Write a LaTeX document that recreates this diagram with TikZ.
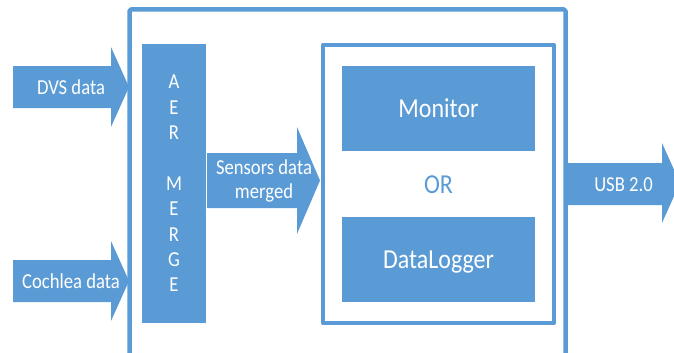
\documentclass[tikz,border=0pt]{standalone}
\usepackage{fontspec}
\setmainfont{Carlito}[FakeStretch=0.875]
\definecolor{aerblue}{RGB}{91,155,213}
\tikzset{
    blockfill/.style={fill=aerblue, draw=none},
    frame/.style={draw=aerblue, line join=round},
    smalltext/.style={text=white, inner sep=0pt, align=center, font=\fontsize{21.3}{24}\selectfont},
    bigtext/.style={text=white, inner sep=0pt, text depth=0pt, font=\fontsize{27.4}{29}\selectfont},
}

\begin{document}
\begin{tikzpicture}[x=1pt, y=-1pt]
        \useasboundingbox (0,0) rectangle (674,353);
        \clip (0,0) rectangle (674,353);
        % Board outline
        \draw[frame, line width=4.5pt, rounded corners=1.5pt] (129.5,370) -- (129.5,9.5) -- (565.5,9.5) -- (565.5,370);
        % Sensor inputs
        \foreach \y/\name/\txt in {87/dvs/DVS data, 281/cochlea/Cochlea data} {
            \fill[aerblue] (13,\y-21) -- (111,\y-21) -- (111,\y-40) -- (129,\y) -- (111,\y+40) -- (111,\y+21) -- (13,\y+21) -- cycle;
            \node[smalltext] (\name) at (71,\y) {\txt};
        }
        % AER merger
        \node[blockfill, minimum width=64pt, minimum height=279pt] (aer) at (174,183.5) {};
        \node[smalltext, font=\fontsize{21.3}{25.4}\selectfont, text depth=0pt] (aerlabel) at (aer.center) {A\\E\\R\\\mbox{}\\M\\E\\R\\G\\E};
        % Merged stream
        \fill[aerblue] (207,153) -- (297,153) -- (297,127) -- (320,180.5) -- (297,234) -- (297,208) -- (207,208) -- cycle;
        \node[smalltext] (merged) at (264,181) {Sensors data\\merged};
        % Output choice
        \node[frame, line width=4pt, minimum width=231pt, minimum height=278pt] (choice) at (438.5,184) {};
        \node[blockfill, minimum width=193pt, minimum height=85pt] (monitor) at (438.5,108.5) {};
        \node[bigtext] (monitorlabel) at (monitor.center) {Monitor};
        \node[bigtext, text=aerblue] (or) at (438.5,185) {OR};
        \node[blockfill, minimum width=193pt, minimum height=85pt] (logger) at (438.5,259.5) {};
        \node[bigtext] (loggerlabel) at (logger.center) {DataLogger};
        % USB link
        \fill[aerblue] (566,163) -- (662,163) -- (662,143) -- (680,183) -- (662,223) -- (662,205) -- (566,205) -- cycle;
        \node[smalltext] (usb) at (623.5,184.5) {USB 2.0};
\end{tikzpicture}
\end{document}
